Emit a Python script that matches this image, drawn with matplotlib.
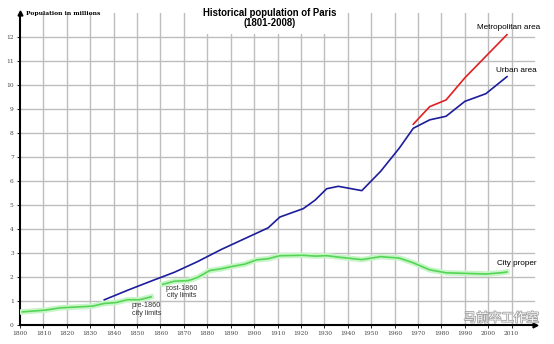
import matplotlib.pyplot as plt
import matplotlib.patheffects as pe

# Population of Paris, millions
city_pre_years = [1801, 1811, 1817, 1831, 1836, 1841, 1846, 1851, 1856]
city_pre_pop = [0.548, 0.622, 0.714, 0.786, 0.899, 0.936, 1.053, 1.053, 1.174]

city_post_years = [1861, 1866, 1872, 1876, 1881, 1886, 1891, 1896, 1901, 1906,
                   1911, 1921, 1926, 1931, 1936, 1946, 1954, 1962, 1968, 1975,
                   1982, 1990, 1999, 2006, 2008]
city_post_pop = [1.696, 1.825, 1.852, 1.989, 2.269, 2.345, 2.448, 2.536, 2.714, 2.763,
                 2.888, 2.906, 2.871, 2.891, 2.830, 2.725, 2.850, 2.790, 2.591, 2.300,
                 2.176, 2.152, 2.125, 2.181, 2.21]

urban_years = [1836, 1846, 1856, 1866, 1876, 1886, 1896, 1906, 1911, 1921, 1926,
               1931, 1936, 1946, 1954, 1962, 1968, 1975, 1982, 1990, 1999, 2008]
urban_pop = [1.05, 1.45, 1.83, 2.2, 2.65, 3.15, 3.6, 4.05, 4.5, 4.85, 5.2,
             5.68, 5.78, 5.6, 6.4, 7.37, 8.2, 8.55, 8.7, 9.32, 9.64, 10.35]

metro_years = [1968, 1975, 1982, 1990, 1999, 2008]
metro_pop = [8.37, 9.1, 9.38, 10.3, 11.2, 12.1]

x_ticks = list(range(1800, 2011, 10))
y_ticks = list(range(0, 13))

fig = plt.figure(figsize=(5.54, 3.44), dpi=100)
ax = fig.add_axes([0.0361, 0.0552, 0.9297, 0.9068])
ax.set_xlim(1800, 2020)
ax.set_ylim(0, 13)

# grid
for x in x_ticks[1:]:
    ax.axvline(x, color='#bdbdbd', lw=1.0, zorder=0)
for y in y_ticks[1:]:
    ax.axhline(y, color='#bdbdbd', lw=1.0, zorder=0)

# lines
glow = [pe.Stroke(linewidth=4, foreground='#c8f5c8'), pe.Normal()]
ax.plot(city_pre_years, city_pre_pop, color='#55d555', lw=1.2, path_effects=glow, zorder=3)
ax.plot(city_post_years, city_post_pop, color='#55d555', lw=1.2, path_effects=glow, zorder=3)
ax.plot(urban_years, urban_pop, color='#1c1c9c', lw=1.2, zorder=4)
ax.plot(metro_years, metro_pop, color='#e02020', lw=1.2, zorder=4)

# axes
for s in ['top', 'right']:
    ax.spines[s].set_visible(False)
for s in ['left', 'bottom']:
    ax.spines[s].set_linewidth(1.5)
ax.plot(1800, 13, '^k', ms=3.5, clip_on=False, zorder=5)
ax.plot(2020, 0, '>k', ms=3.5, clip_on=False, zorder=5)

ax.set_xticks(x_ticks)
ax.set_yticks(y_ticks)
ax.tick_params(length=2.5, width=0.6, pad=2, labelsize=4.2, labelcolor='#444444')
for lab in ax.get_xticklabels() + ax.get_yticklabels():
    lab.set_family('DejaVu Serif')

ax.text(1802.5, 13.0, 'Population in millions', fontsize=4.3, fontweight='bold',
        family='DejaVu Serif', va='center', ha='left')

fig.text(0.487, 0.978, 'Historical population of Paris\n(1801-2008)', ha='center', va='top',
         fontsize=6.9, fontweight='bold', family='Liberation Sans', linespacing=1.1,
         bbox=dict(facecolor='white', edgecolor='none', pad=4))

sans = 'Liberation Sans'
ax.text(2008.5, 12.4, 'Metropolitan area', fontsize=5.9, family=sans, ha='center', va='center')
ax.text(2012, 10.6, 'Urban area', fontsize=5.9, family=sans, ha='center', va='center')
ax.text(2012, 2.58, 'City proper', fontsize=5.9, family=sans, ha='center', va='center')
ax.text(1854, 0.65, 'pre-1860\ncity limits', fontsize=5.2, family=sans, ha='center',
        va='center', color='#333333', linespacing=1.1)
ax.text(1869, 1.37, 'post-1860\ncity limits', fontsize=5.2, family=sans, ha='center',
        va='center', color='#333333', linespacing=1.1)

fig.text(0.905, 0.075, '马前卒工作室', fontsize=9, family=['Noto Sans CJK SC', 'DejaVu Sans'],
         color='white', ha='center', va='center', alpha=0.9,
         path_effects=[pe.withStroke(linewidth=1.2, foreground='#9a9a9a')])

fig.savefig('out.png', dpi=100)
